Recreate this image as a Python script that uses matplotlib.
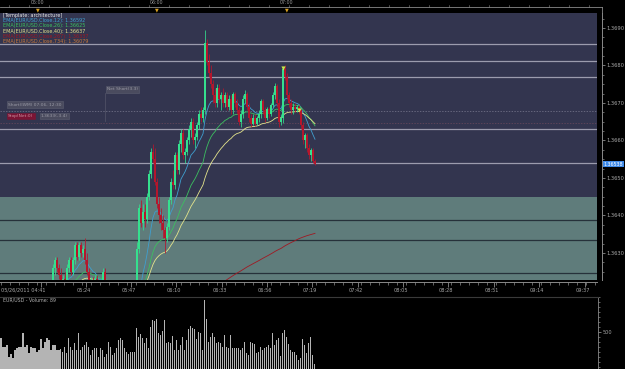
import matplotlib
matplotlib.use("Agg")
import matplotlib.pyplot as plt
from matplotlib.lines import Line2D
from matplotlib.ticker import MultipleLocator, FixedLocator
import numpy as np

W, H = 625, 369
BASE = 1.3600  # prices below are in pips above this level

# OHLC of the 1-minute EUR/USD bars (pips above 1.3600)
opens = [19, 20, 19, 18, 19, 20, 18, 17, 16, 17, 18, 19, 18, 16, 15, 16, 17, 18, 17, 16, 15, 16, 17, 16, 17, 18,
         18, 26, 28, 26, 24, 22, 23, 22, 26, 28, 25, 28, 32, 29, 32, 30, 31, 28, 25, 21, 22, 21, 23, 20, 18, 21, 25, 21,
         17, 15, 14, 12, 13, 11, 10, 12, 11, 9, 10, 8, 9, 11,
         10, 31, 42, 38, 41, 39, 45, 51, 57, 55, 49, 43, 40, 38, 36, 34, 37, 44, 49, 48, 56, 52, 59, 62, 56, 57,
         60, 63, 65, 60, 61, 64, 67, 66, 68, 86, 81, 78, 75, 72, 70, 74,
         71, 72, 70, 72, 69, 71, 68, 72.5, 70, 68, 65, 67, 71, 72.5, 69, 66, 64.5, 66, 64.5, 66,
         67, 70.5, 68, 66, 68.5, 67, 69.5, 72, 74.5, 70, 65, 66, 79, 77, 72, 70, 68, 69, 68.5, 69,
         68, 64, 60, 61.5, 58, 56, 57.5, 54.5]
highs = [21, 21, 20, 20, 21, 21, 19, 18, 18, 19, 20, 20, 19, 17, 17, 18, 19, 19, 18, 17, 17, 18, 18, 18, 19, 19,
         27, 29, 29, 27, 26, 24, 25, 27, 29, 29, 29, 33, 33, 33, 33, 32, 34, 30, 26, 23.5, 23.5, 24, 24, 21, 22, 26, 26, 22,
         18, 16, 15, 14, 14, 12, 13, 13, 12, 11, 11, 10, 12, 12,
         33, 43, 44, 43, 43, 46, 52, 58, 59, 58, 50, 45, 42, 40, 37, 38, 45, 50, 52, 57, 57, 60, 63, 63, 58, 61,
         64, 66, 66, 62, 65, 68, 69, 69, 89.5, 87, 83, 80, 76, 74, 75, 75,
         73, 74, 73, 73, 72, 72, 73, 73, 71, 69, 68, 72, 73.5, 73, 70, 67, 67, 67, 66.5, 68,
         71, 71, 69, 69, 69, 70, 73, 75.3, 75, 71, 67, 79.6, 80, 78, 73, 71, 70, 70, 69.5, 69.5,
         68.5, 65, 62, 62, 59, 58, 58, 55]
lows = [18, 18, 17, 17, 18, 17, 16, 15, 15, 16, 17, 17, 15, 14, 14, 15, 16, 16, 15, 14, 14, 15, 15, 15, 16, 17,
        17, 24, 25, 23, 21, 20, 21, 21, 25, 24, 24, 27, 28, 28, 29, 29, 27, 24, 20, 19, 20, 20, 19, 17, 17, 20, 20, 16,
        14, 13, 11, 11, 10, 9, 9, 10, 8, 8, 7, 7, 8, 9,
        9, 30, 37, 36, 37, 38, 44, 50, 54, 48, 42, 38, 36, 34, 30, 33, 36, 43, 47, 47, 51, 51, 57, 55, 54, 56,
        59, 61, 59, 58, 60, 63, 65, 65, 67, 80, 77, 74, 70, 69, 69, 70,
        68, 69, 69, 68, 68, 67, 67, 69, 67, 64, 63.6, 66, 70, 68, 65, 63.6, 64, 63.8, 64, 65,
        66, 67, 65, 65.5, 66, 66.5, 69, 71, 69, 63.6, 64, 64.6, 76, 71, 69, 67, 67, 67.5, 67.5, 67,
        63, 59, 58, 57, 55, 54.5, 54, 53.5]
closes = [20, 19, 18, 19, 20, 18, 17, 16, 17, 18, 19, 18, 16, 15, 16, 17, 18, 17, 16, 15, 16, 17, 16, 17, 18, 18,
          26, 28, 26, 24, 22, 23, 22, 26, 28, 25, 28, 32, 29, 32, 30, 31, 28, 25, 21, 22, 21, 23, 20, 18, 21, 25, 21, 17,
          15, 14, 12, 13, 11, 10, 12, 11, 9, 10, 8, 9, 11, 10,
          31, 42, 38, 41, 39, 45, 51, 57, 55, 49, 43, 40, 38, 36, 34, 37, 44, 49, 48, 56, 52, 59, 62, 56, 57, 60,
          63, 65, 60, 61, 64, 67, 66, 68, 86, 81, 78, 75, 72, 70, 74, 71,
          72, 70, 72, 69, 71, 68, 72.5, 70, 68, 65, 67, 71, 72.5, 69, 66, 64.5, 66, 64.5, 66, 67,
          70.5, 68, 66, 68.5, 67, 69.5, 72, 74.5, 70, 65, 66, 79, 77, 72, 70, 68, 69, 68.5, 69, 68,
          64, 60, 61.5, 58, 56, 57.5, 54.5, 53.8]
volumes = [420, 314, 314, 335, 188, 218, 167, 272, 293, 314, 314, 483, 314, 335, 230, 314, 293, 302, 251, 272,
           407, 293, 377, 420, 399, 272, 335, 335, 272, 272, 281, 251, 314, 230, 428, 314, 272, 365, 272, 483,
           272, 314, 335, 377, 314, 209, 272, 302, 302, 188, 293, 272, 188, 218, 377, 314, 209, 230, 293, 399,
           420, 399, 293, 251, 218, 243, 251, 251, 547, 441, 471, 420, 357, 428, 293, 567, 652, 639, 665, 483,
           462, 513, 652, 365, 377, 357, 449, 272, 399, 272, 335, 441, 272, 399, 534, 576, 547, 534, 407, 496,
           483, 272, 905, 665, 377, 441, 483, 441, 365, 377, 357, 314, 462, 314, 293, 462, 293, 302, 293, 293,
           272, 293, 377, 230, 209, 377, 357, 344, 230, 251, 314, 272, 293, 314, 335, 293, 483, 335, 399, 420,
           196, 483, 525, 441, 344, 272, 251, 243, 209, 146, 175, 407, 335, 230, 357, 441, 209, 89]

ema_spans = [12, 26, 40, 267, 734]
ema_seeds = [1.3618, 1.3618, 1.3618, 1.36014, 1.3588]
ema_colors = ['#3f9fd0', '#3cc060', '#e4e48c', '#a01822', '#c8783a']
legend_lines = ['EMA(EUR/USD.Close,12): 1.36592', 'EMA(EUR/USD.Close,26): 1.36625',
                'EMA(EUR/USD.Close,40): 1.36637', 'EMA(EUR/USD.Close,267): 1.36337',
                'EMA(EUR/USD.Close,734): 1.36079']

level_lines = [85.73, 81.2, 76.93, 63.07, 54.0]       # light lines in upper zone
zone_lines = [38.8, 33.47, 24.67]                       # dark lines in lower zone
zone_top = 44.93
signal_bars = [141, 149]
signal_pips = [79.3, 68.0]

price_ticks = [1.3630, 1.3640, 1.3650, 1.3660, 1.3670, 1.3680, 1.3690]
time_labels = ['05/26/2011 04:41', '05:24', '05:47', '06:10', '06:33', '06:56', '07:19',
               '07:42', '08:05', '08:28', '08:51', '09:14', '09:37']
time_label_px = [20, 84, 129, 174, 220, 265, 310, 356, 401, 446, 492, 537, 583]
top_labels = ['05:00', '06:00', '07:00']
top_label_px = [38, 157, 287]


def to_price(p):
    return BASE + np.asarray(p, dtype=float) / 1e4


def ema(values, span, seed):
    alpha = 2.0 / (span + 1)
    out = []
    e = seed
    for v in values:
        e = e + alpha * (v - e)
        out.append(e)
    return np.array(out)


def box(x0, y0, x1, y1):
    return [x0 / W, 1 - y1 / H, (x1 - x0) / W, (y1 - y0) / H]


def px2bar(x):
    return (x - 1) / 2.0


o = to_price(opens)
h = to_price(highs)
l = to_price(lows)
c = to_price(closes)
idx = np.arange(len(c))

fig = plt.figure(figsize=(W / 100, H / 100), dpi=100, facecolor='black')

# ---------------- main price panel ----------------
ax = fig.add_axes(box(0, 13, 597, 280))
ax.set_facecolor('#33354f')
ax.set_xlim(-0.5, 298)
ax.set_ylim(1.36228, 1.36940)
ax.axhspan(1.36228, to_price(zone_top), color='#5f7c7b', zorder=0, lw=0)

for p in level_lines:
    ax.axhline(to_price(p), color='#9c9cae', lw=0.9, zorder=1)
for p in zone_lines:
    ax.axhline(to_price(p), color='#26313a', lw=0.9, zorder=1)
ax.axhline(to_price(67.87), color='#7a7a90', lw=0.5, ls=(0, (2, 2)), zorder=1)
ax.axhline(to_price(64.67), color='#6c4a5c', lw=0.5, ls=(0, (2, 2)), zorder=1)

for span, seed, col in zip(ema_spans, ema_seeds, ema_colors):
    ax.plot(idx, ema(c, span, seed), color=col, lw=0.6, zorder=3)

up = c >= o
cols = np.where(up, '#35e08e', '#b5162c')
ax.vlines(idx, l, h, colors=cols, lw=0.55, zorder=4)
body = np.where(np.abs(c - o) < 0.00002, 0.00002, c - o)
ax.bar(idx, body, bottom=o, width=0.62, color=cols, lw=0, zorder=5)

ax.scatter(signal_bars, to_price(signal_pips), marker='v', s=9, color='#c8e84a', zorder=6, lw=0)

for s in ['left', 'top']:
    ax.spines[s].set_visible(False)
ax.spines['right'].set_position(('outward', 3.6))
ax.spines['bottom'].set_position(('outward', 1.5))
for s in ['right', 'bottom']:
    ax.spines[s].set_color('#8a8a8a')
    ax.spines[s].set_linewidth(0.7)
ax.yaxis.tick_right()
ax.set_yticks(price_ticks)
ax.set_yticklabels(['%.4f' % p for p in price_ticks])
ax.yaxis.set_minor_locator(MultipleLocator(0.00025))
ax.tick_params(axis='y', which='both', colors='#8a8a8a', labelcolor='#a8a8a8', labelsize=3.7, pad=1)
ax.tick_params(axis='y', which='major', length=2.2, width=0.6)
ax.tick_params(axis='y', which='minor', length=1.3, width=0.5)

major_px = [x + 2 for x in time_label_px[1:]]
ax.xaxis.set_major_locator(FixedLocator([px2bar(x) for x in [41] + major_px]))
ax.xaxis.set_minor_locator(MultipleLocator(4.5))
ax.set_xticklabels([])
ax.tick_params(axis='x', which='major', colors='#8a8a8a', length=3.5, width=0.6)
ax.tick_params(axis='x', which='minor', colors='#8a8a8a', length=1.8, width=0.5)

fig.text(1 / W, 1 - 290 / H, time_labels[0], color='#a8a8a8', fontsize=3.6, ha='left', va='center')
for lab, xp in zip(time_labels[1:], time_label_px[1:]):
    fig.text(xp / W, 1 - 290 / H, lab, color='#a8a8a8', fontsize=3.6, ha='center', va='center')

# legend text
fig.text(3 / W, 1 - 15.5 / H, '[Template: architecture]', color='#e8e8e8', fontsize=3.5, va='center')
for k, (txt, col) in enumerate(zip(legend_lines, ema_colors)):
    fig.text(3 / W, 1 - (20.8 + 5.1 * k) / H, txt, color=col, fontsize=3.5, va='center')

# order / position boxes
fig.text(8 / W, 1 - 104.5 / H, 'Short(IWM) 07:06, 12:30', color='#9a9aa6', fontsize=3.2, va='center',
         bbox=dict(boxstyle='square,pad=0.3', fc='#4a4b5e', ec='#5c5d70', lw=0.4))
fig.text(8 / W, 1 - 116 / H, 'Stop(Net:0)', color='#c890a0', fontsize=3.2, va='center',
         bbox=dict(boxstyle='square,pad=0.3', fc='#7a1434', ec='#7a1434', lw=0.4))
fig.text(41 / W, 1 - 116 / H, '1.3633(-3.4)', color='#9a9aa6', fontsize=3.2, va='center',
         bbox=dict(boxstyle='square,pad=0.3', fc='#4a4b5e', ec='#5c5d70', lw=0.4))
fig.text(107 / W, 1 - 89.5 / H, 'Net Short(3.3)', color='#9a9aa6', fontsize=3.2, va='center',
         bbox=dict(boxstyle='square,pad=0.3', fc='#4a4b5e', ec='#5c5d70', lw=0.4))
fig.add_artist(Line2D([105 / W, 105 / W], [1 - 93 / H, 1 - 121 / H], color='#55566a', lw=0.5))

# last price tag
fig.text(603.5 / W, 1 - 164 / H, '%.5f' % c[-1], color='#ffffff', fontsize=3.4, va='center',
         bbox=dict(boxstyle='square,pad=0.15', fc='#3f8ae8', ec='none'))

# top time strip
fig.add_artist(Line2D([0, 602 / W], [1 - 7 / H, 1 - 7 / H], color='#8a8a8a', lw=0.6))
fig.add_artist(Line2D([602 / W, 602 / W], [1 - 7 / H, 1 - 13 / H], color='#8a8a8a', lw=0.6))
for xp in range(9, 600, 20):
    fig.add_artist(Line2D([xp / W, xp / W], [1 - 5 / H, 1 - 7 / H], color='#8a8a8a', lw=0.4))
for lab, xp in zip(top_labels, top_label_px):
    fig.text(xp / W, 1 - 3 / H, lab, color='#9a9a9a', fontsize=3.4, ha='center', va='center')
    fig.text(xp / W, 1 - 9.5 / H, '\u25bc', color='#d8a020', fontsize=3.5, ha='center', va='center')

# ---------------- volume panel ----------------
vax = fig.add_axes(box(0, 297, 598, 369))
vax.set_facecolor('black')
vax.set_xlim(-0.5, 299)
vax.set_ylim(32, 943)
vax.bar(idx, volumes, width=0.6, color='#b4b4b4', lw=0)
for s in ['left', 'bottom']:
    vax.spines[s].set_visible(False)
vax.spines['top'].set_color('#3a3a3a')
vax.spines['top'].set_linewidth(0.8)
vax.spines['right'].set_color('#8a8a8a')
vax.spines['right'].set_linewidth(0.6)
vax.set_xticks([])
vax.yaxis.tick_right()
vax.set_yticks([500])
vax.set_yticklabels(['500'])
vax.yaxis.set_minor_locator(MultipleLocator(62.5))
vax.tick_params(axis='y', which='both', colors='#8a8a8a', labelcolor='#a8a8a8', labelsize=3.6, pad=1)
vax.tick_params(axis='y', which='major', length=2.2, width=0.6)
vax.tick_params(axis='y', which='minor', length=1.3, width=0.5)
fig.text(3 / W, 1 - 300.5 / H, 'EUR/USD - Volume: %d' % volumes[-1], color='#b0b0b0', fontsize=3.4, va='center')

fig.savefig('out.png', dpi=100, facecolor='black')
